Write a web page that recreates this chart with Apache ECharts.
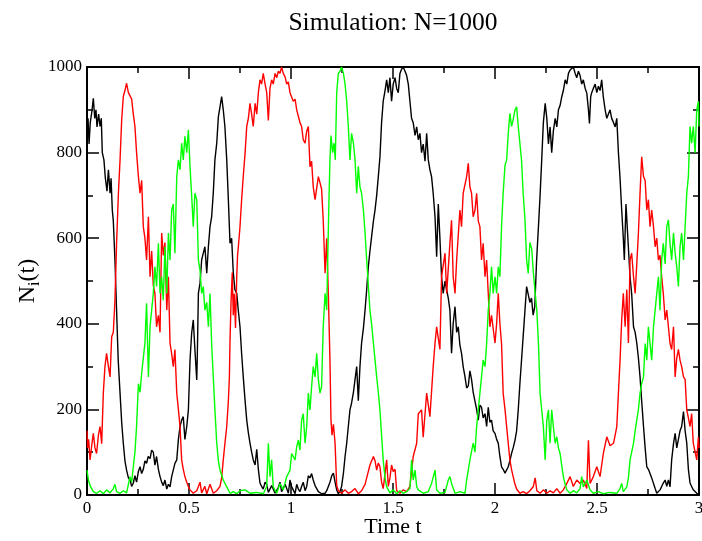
<!DOCTYPE html>
<html>
<head>
<meta charset="utf-8">
<script src="https://cdn.jsdelivr.net/npm/echarts@6/dist/echarts.min.js"></script>
<style>html,body{margin:0;padding:0;background:#fff}#c{width:702px;height:541px}</style>
</head>
<body>
<div id="c"></div>
<script>
const titleText = 'Simulation: N=1000';
const xName = 'Time t';
const xTicks = [0, 0.5, 1, 1.5, 2, 2.5, 3];
const yTicks = [0, 200, 400, 600, 800, 1000];

const blackSeries = [[0,840],[0.005,880],[0.010,820],[0.016,870],[0.025,900],[0.031,927],[0.038,880],[0.044,900],[0.049,860],[0.057,890],[0.064,861],[0.070,880],[0.075,800],[0.083,783],[0.090,740],[0.098,710],[0.105,760],[0.113,705],[0.118,740],[0.124,666],[0.129,640],[0.137,549],[0.145,432],[0.153,315],[0.162,238],[0.170,170],[0.178,121],[0.186,80],[0.194,58],[0.203,40],[0.211,35],[0.219,20],[0.227,28],[0.235,45],[0.243,30],[0.252,55],[0.260,66],[0.268,50],[0.276,60],[0.284,80],[0.292,74],[0.300,90],[0.309,85],[0.317,105],[0.325,100],[0.333,70],[0.341,90],[0.350,60],[0.358,43],[0.366,30],[0.374,22],[0.382,35],[0.391,14],[0.399,25],[0.407,19],[0.415,43],[0.423,40],[0.431,74],[0.440,82],[0.448,130],[0.456,160],[0.464,175],[0.472,183],[0.480,130],[0.489,160],[0.497,199],[0.505,315],[0.513,378],[0.521,409],[0.529,339],[0.538,269],[0.541,331],[0.546,471],[0.554,495],[0.562,549],[0.570,565],[0.578,580],[0.587,518],[0.595,580],[0.603,627],[0.611,650],[0.619,705],[0.627,783],[0.636,822],[0.644,884],[0.652,907],[0.660,931],[0.668,900],[0.676,861],[0.685,783],[0.693,689],[0.701,588],[0.709,600],[0.717,520],[0.725,480],[0.734,471],[0.742,430],[0.750,393],[0.758,330],[0.766,276],[0.775,220],[0.783,175],[0.791,145],[0.799,121],[0.807,100],[0.815,82],[0.824,70],[0.832,107],[0.840,60],[0.848,28],[0.856,20],[0.864,14],[0.873,30],[0.881,25],[0.889,6],[0.897,8],[0.905,22],[0.913,20],[0.922,4],[0.930,5],[0.938,18],[0.946,30],[0.954,8],[0.962,10],[0.971,25],[0.979,15],[0.987,4],[0.995,35],[1.003,20],[1.011,12],[1.020,3],[1.028,25],[1.036,14],[1.044,8],[1.052,20],[1.060,30],[1.069,10],[1.077,20],[1.085,45],[1.093,40],[1.101,50],[1.109,35],[1.118,22],[1.126,20],[1.134,8],[1.142,5],[1.150,3],[1.158,2],[1.167,4],[1.175,10],[1.183,20],[1.191,30],[1.200,45],[1.208,51],[1.216,30],[1.224,12],[1.232,3],[1.240,8],[1.248,20],[1.257,51],[1.265,90],[1.273,121],[1.281,160],[1.289,199],[1.297,215],[1.306,240],[1.314,270],[1.322,300],[1.330,220],[1.338,300],[1.346,355],[1.355,390],[1.363,432],[1.371,480],[1.379,533],[1.387,570],[1.395,603],[1.404,640],[1.412,666],[1.420,700],[1.428,744],[1.436,790],[1.444,870],[1.452,920],[1.461,945],[1.469,970],[1.477,940],[1.485,975],[1.493,920],[1.501,960],[1.510,975],[1.518,950],[1.526,940],[1.534,985],[1.542,995],[1.550,1000],[1.559,990],[1.567,980],[1.575,960],[1.583,920],[1.591,880],[1.599,870],[1.608,840],[1.616,860],[1.624,830],[1.632,845],[1.640,800],[1.648,820],[1.657,780],[1.665,845],[1.673,783],[1.681,760],[1.689,744],[1.697,705],[1.706,650],[1.714,557],[1.722,680],[1.730,600],[1.738,510],[1.746,471],[1.755,500],[1.763,480],[1.771,460],[1.779,432],[1.787,331],[1.795,400],[1.804,440],[1.812,380],[1.820,393],[1.828,350],[1.836,331],[1.844,300],[1.853,276],[1.861,250],[1.869,255],[1.877,290],[1.885,270],[1.893,240],[1.902,238],[1.910,200],[1.918,175],[1.926,210],[1.934,205],[1.942,180],[1.951,190],[1.959,160],[1.967,205],[1.975,170],[1.983,175],[1.991,150],[2.000,144],[2.008,130],[2.016,121],[2.024,90],[2.032,66],[2.040,60],[2.049,51],[2.057,55],[2.065,66],[2.073,80],[2.081,97],[2.089,110],[2.098,128],[2.106,150],[2.114,199],[2.122,260],[2.130,315],[2.138,370],[2.147,432],[2.155,487],[2.163,487],[2.171,450],[2.179,460],[2.187,420],[2.195,440],[2.204,549],[2.213,627],[2.221,700],[2.229,783],[2.237,870],[2.246,915],[2.254,880],[2.262,820],[2.270,860],[2.278,800],[2.286,850],[2.295,880],[2.303,860],[2.311,900],[2.319,910],[2.327,930],[2.335,945],[2.344,970],[2.352,960],[2.360,985],[2.368,993],[2.376,990],[2.384,1000],[2.393,985],[2.401,975],[2.409,990],[2.417,980],[2.425,960],[2.433,970],[2.442,950],[2.450,939],[2.458,900],[2.463,868],[2.469,930],[2.474,940],[2.482,950],[2.491,960],[2.499,940],[2.507,955],[2.515,945],[2.523,970],[2.531,930],[2.540,900],[2.548,880],[2.556,878],[2.564,900],[2.572,880],[2.581,870],[2.589,860],[2.597,880],[2.605,800],[2.613,740],[2.621,666],[2.629,600],[2.634,549],[2.642,680],[2.649,620],[2.656,560],[2.662,510],[2.670,470],[2.679,393],[2.687,380],[2.695,355],[2.703,320],[2.711,276],[2.719,220],[2.728,160],[2.736,110],[2.744,66],[2.752,60],[2.760,50],[2.768,40],[2.777,43],[2.785,15],[2.793,4],[2.801,8],[2.809,12],[2.817,20],[2.825,28],[2.834,35],[2.842,20],[2.850,35],[2.858,19],[2.866,82],[2.875,120],[2.883,144],[2.891,110],[2.899,130],[2.907,150],[2.915,160],[2.924,195],[2.932,150],[2.940,121],[2.948,60],[2.956,28],[2.964,20],[2.972,12],[2.981,8],[2.989,4],[3.000,2]];

const redSeries = [[0,150],[0.003,110],[0.008,130],[0.015,82],[0.023,115],[0.031,144],[0.039,110],[0.047,97],[0.056,140],[0.064,160],[0.072,120],[0.080,238],[0.088,300],[0.096,331],[0.105,300],[0.113,276],[0.121,370],[0.129,380],[0.137,455],[0.145,588],[0.154,705],[0.162,783],[0.170,876],[0.178,931],[0.186,945],[0.194,962],[0.203,940],[0.211,938],[0.219,925],[0.227,890],[0.235,861],[0.243,800],[0.252,744],[0.260,705],[0.268,735],[0.276,627],[0.284,600],[0.292,549],[0.301,650],[0.309,510],[0.317,570],[0.325,490],[0.333,471],[0.341,393],[0.350,420],[0.358,380],[0.366,612],[0.374,560],[0.382,590],[0.391,432],[0.399,510],[0.407,355],[0.415,330],[0.423,300],[0.431,340],[0.440,238],[0.448,200],[0.456,160],[0.464,82],[0.472,60],[0.480,43],[0.489,30],[0.497,20],[0.505,12],[0.521,4],[0.538,10],[0.554,30],[0.562,5],[0.578,20],[0.587,3],[0.603,25],[0.619,4],[0.636,10],[0.652,20],[0.660,40],[0.668,82],[0.676,120],[0.685,160],[0.693,220],[0.698,276],[0.701,360],[0.706,450],[0.712,520],[0.717,420],[0.722,470],[0.728,390],[0.734,510],[0.738,560],[0.742,580],[0.750,627],[0.758,690],[0.766,744],[0.775,800],[0.783,861],[0.791,880],[0.799,915],[0.807,890],[0.815,861],[0.824,915],[0.832,890],[0.840,940],[0.848,970],[0.856,960],[0.864,985],[0.873,960],[0.881,940],[0.889,875],[0.897,950],[0.905,970],[0.913,960],[0.922,985],[0.930,975],[0.938,990],[0.946,985],[0.954,1000],[0.962,985],[0.971,977],[0.979,960],[0.987,965],[0.995,940],[1.003,939],[1.011,920],[1.020,925],[1.028,900],[1.036,885],[1.044,870],[1.052,861],[1.060,830],[1.069,822],[1.077,850],[1.085,861],[1.093,767],[1.101,780],[1.109,720],[1.118,690],[1.126,689],[1.134,744],[1.142,730],[1.150,715],[1.158,642],[1.167,518],[1.175,600],[1.183,470],[1.191,315],[1.196,175],[1.201,140],[1.208,165],[1.216,121],[1.224,22],[1.232,10],[1.248,4],[1.265,12],[1.281,4],[1.297,8],[1.314,15],[1.330,3],[1.346,10],[1.363,25],[1.371,40],[1.387,70],[1.404,90],[1.412,80],[1.420,58],[1.428,75],[1.436,66],[1.444,30],[1.452,15],[1.461,50],[1.469,82],[1.477,20],[1.485,40],[1.493,70],[1.501,55],[1.510,60],[1.518,10],[1.534,4],[1.550,12],[1.567,8],[1.583,20],[1.599,90],[1.616,121],[1.624,190],[1.640,199],[1.648,135],[1.665,238],[1.681,183],[1.697,300],[1.706,355],[1.714,393],[1.730,340],[1.738,510],[1.755,565],[1.763,471],[1.779,588],[1.787,642],[1.795,510],[1.804,471],[1.812,549],[1.828,666],[1.836,627],[1.844,705],[1.861,744],[1.869,775],[1.877,720],[1.885,705],[1.893,650],[1.902,666],[1.910,705],[1.918,640],[1.926,627],[1.934,549],[1.942,588],[1.951,510],[1.959,549],[1.967,470],[1.975,393],[1.983,420],[1.991,420],[2.000,355],[2.008,400],[2.016,471],[2.024,400],[2.032,354],[2.040,238],[2.049,200],[2.057,160],[2.065,120],[2.073,82],[2.081,60],[2.089,43],[2.098,25],[2.106,14],[2.122,4],[2.138,8],[2.155,3],[2.171,10],[2.188,20],[2.197,40],[2.205,10],[2.221,4],[2.237,12],[2.254,4],[2.270,10],[2.286,5],[2.303,15],[2.319,4],[2.335,12],[2.352,27],[2.368,43],[2.384,20],[2.401,35],[2.417,27],[2.433,35],[2.450,15],[2.458,128],[2.466,27],[2.482,43],[2.499,66],[2.515,43],[2.531,97],[2.548,136],[2.564,115],[2.581,121],[2.589,140],[2.597,160],[2.605,238],[2.613,315],[2.621,409],[2.629,471],[2.638,393],[2.646,480],[2.654,355],[2.662,549],[2.670,565],[2.679,510],[2.687,471],[2.695,540],[2.703,612],[2.711,705],[2.719,790],[2.728,744],[2.736,735],[2.744,666],[2.752,690],[2.760,627],[2.768,666],[2.777,627],[2.785,580],[2.793,600],[2.801,549],[2.809,560],[2.817,510],[2.825,471],[2.834,409],[2.842,432],[2.850,393],[2.858,354],[2.866,340],[2.875,393],[2.883,276],[2.891,320],[2.899,340],[2.907,315],[2.915,300],[2.924,276],[2.932,270],[2.940,199],[2.948,180],[2.956,160],[2.964,190],[2.972,121],[2.981,100],[2.989,82],[2.997,136],[3.000,110]];

const greenSeries = [[0,58],[0.007,35],[0.015,22],[0.031,8],[0.047,4],[0.064,10],[0.080,3],[0.096,12],[0.113,5],[0.129,15],[0.137,25],[0.145,8],[0.162,4],[0.178,10],[0.194,5],[0.211,43],[0.219,30],[0.227,66],[0.235,100],[0.243,160],[0.252,260],[0.260,240],[0.268,284],[0.276,320],[0.284,355],[0.292,448],[0.301,276],[0.309,393],[0.317,432],[0.325,471],[0.333,533],[0.341,487],[0.350,588],[0.358,471],[0.366,510],[0.374,455],[0.382,580],[0.391,471],[0.399,612],[0.407,549],[0.415,666],[0.423,680],[0.431,565],[0.440,744],[0.448,783],[0.456,760],[0.464,822],[0.472,783],[0.480,838],[0.489,800],[0.497,853],[0.505,767],[0.513,700],[0.521,627],[0.529,705],[0.538,690],[0.546,549],[0.554,525],[0.562,471],[0.570,487],[0.578,432],[0.587,450],[0.595,393],[0.603,471],[0.611,354],[0.619,276],[0.627,199],[0.636,121],[0.644,80],[0.652,58],[0.668,35],[0.685,19],[0.701,4],[0.717,8],[0.734,3],[0.750,10],[0.775,12],[0.799,4],[0.832,6],[0.864,3],[0.881,20],[0.889,121],[0.897,43],[0.905,82],[0.913,19],[0.930,4],[0.946,27],[0.962,12],[0.979,43],[0.995,58],[1.003,97],[1.020,82],[1.028,113],[1.036,128],[1.044,105],[1.052,175],[1.060,190],[1.069,121],[1.077,160],[1.085,238],[1.093,199],[1.101,253],[1.109,300],[1.118,276],[1.126,331],[1.134,270],[1.142,238],[1.150,253],[1.158,393],[1.167,471],[1.175,432],[1.180,549],[1.185,666],[1.191,783],[1.196,840],[1.204,800],[1.211,822],[1.217,783],[1.224,939],[1.232,985],[1.240,990],[1.248,1000],[1.257,985],[1.265,960],[1.273,920],[1.281,861],[1.289,783],[1.297,845],[1.306,822],[1.314,783],[1.322,705],[1.330,768],[1.338,720],[1.346,705],[1.355,666],[1.363,612],[1.371,549],[1.379,490],[1.387,432],[1.395,400],[1.404,355],[1.412,315],[1.420,276],[1.428,240],[1.436,199],[1.444,140],[1.452,82],[1.461,40],[1.469,19],[1.485,5],[1.501,12],[1.518,3],[1.534,10],[1.550,4],[1.567,8],[1.583,15],[1.591,82],[1.599,35],[1.608,58],[1.616,20],[1.624,12],[1.648,4],[1.673,8],[1.689,27],[1.706,58],[1.714,12],[1.730,4],[1.755,6],[1.771,35],[1.779,43],[1.787,27],[1.804,4],[1.828,8],[1.853,4],[1.861,35],[1.877,82],[1.893,121],[1.902,100],[1.910,160],[1.918,199],[1.926,238],[1.934,276],[1.942,315],[1.951,300],[1.959,354],[1.967,432],[1.975,471],[1.983,533],[1.991,471],[2.000,510],[2.008,471],[2.016,533],[2.024,510],[2.032,627],[2.040,705],[2.049,770],[2.057,783],[2.065,845],[2.073,892],[2.081,861],[2.089,877],[2.098,900],[2.106,907],[2.114,861],[2.122,822],[2.130,783],[2.138,705],[2.147,643],[2.155,549],[2.163,518],[2.171,590],[2.180,575],[2.188,520],[2.197,471],[2.205,432],[2.213,354],[2.221,238],[2.229,199],[2.237,160],[2.246,82],[2.254,175],[2.262,199],[2.270,121],[2.278,199],[2.286,160],[2.295,121],[2.303,136],[2.311,110],[2.319,97],[2.327,70],[2.335,43],[2.344,25],[2.352,12],[2.368,4],[2.384,10],[2.401,5],[2.417,15],[2.425,43],[2.433,19],[2.450,35],[2.466,12],[2.482,4],[2.507,8],[2.531,3],[2.564,6],[2.597,4],[2.613,15],[2.621,27],[2.629,8],[2.646,19],[2.654,40],[2.662,82],[2.670,100],[2.679,121],[2.687,150],[2.695,175],[2.703,200],[2.711,238],[2.719,260],[2.728,276],[2.736,354],[2.744,315],[2.752,393],[2.760,354],[2.768,315],[2.777,393],[2.785,432],[2.793,471],[2.801,510],[2.809,432],[2.817,549],[2.825,588],[2.834,540],[2.842,627],[2.850,643],[2.858,588],[2.866,549],[2.875,612],[2.883,565],[2.891,533],[2.899,487],[2.907,580],[2.915,612],[2.924,549],[2.932,627],[2.940,705],[2.948,744],[2.956,861],[2.964,822],[2.972,861],[2.981,800],[2.989,900],[2.997,920],[3.000,861]];

const FONT = '"Liberation Serif", "Times New Roman", serif';
const chart = echarts.init(document.getElementById('c'), null, {renderer: 'canvas'});

function mkX(pos, labels) {
  return {
    type: 'value', position: pos, min: xTicks[0], max: xTicks[xTicks.length - 1],
    interval: xTicks[1] - xTicks[0],
    axisLine: {show: true, onZero: false, lineStyle: {color: '#000', width: 2}},
    axisTick: {show: true, inside: true, length: 12, lineStyle: {color: '#000', width: 1.5}},
    minorTick: {show: true, splitNumber: 2, length: 6, lineStyle: {color: '#000', width: 1.5}},
    splitLine: {show: false}, minorSplitLine: {show: false},
    axisLabel: {show: labels, color: '#000', fontFamily: FONT, fontSize: 17, margin: 5,
      showMaxLabel: true, showMinLabel: true, hideOverlap: false, formatter: v => String(v)},
    name: labels ? xName : '', nameLocation: 'middle', nameGap: 21, nameMoveOverlap: false,
    nameTextStyle: {color: '#000', fontFamily: FONT, fontSize: 22}
  };
}
function mkY(pos, labels) {
  return {
    type: 'value', position: pos, min: yTicks[0], max: yTicks[yTicks.length - 1],
    interval: yTicks[1] - yTicks[0],
    axisLine: {show: true, onZero: false, lineStyle: {color: '#000', width: 2}},
    axisTick: {show: true, inside: true, length: 12, lineStyle: {color: '#000', width: 1.5}},
    minorTick: {show: true, splitNumber: 2, length: 6, lineStyle: {color: '#000', width: 1.5}},
    splitLine: {show: false}, minorSplitLine: {show: false},
    axisLabel: {show: labels, color: '#000', fontFamily: FONT, fontSize: 17, margin: 5,
      formatter: v => String(v)},
    name: labels ? '{n|N}{s|i}{n|(t)}' : '', nameLocation: 'middle', nameGap: 44, nameRotate: 90,
    nameMoveOverlap: false,
    nameTextStyle: {
      color: '#000', fontFamily: FONT, fontSize: 24,
      rich: {
        n: {fontFamily: FONT, fontSize: 24, color: '#000', lineHeight: 30},
        s: {fontFamily: FONT, fontSize: 16, color: '#000', verticalAlign: 'bottom', lineHeight: 16}
      }
    }
  };
}

const lineSeries = (name, data, color) => ({
  name, type: 'line', data, xAxisIndex: 0, yAxisIndex: 0,
  showSymbol: false, symbol: 'none', smooth: false, clip: true,
  lineStyle: {color, width: 1.4}, itemStyle: {color}, emphasis: {disabled: true}
});

chart.setOption({
  animation: false,
  backgroundColor: '#fff',
  title: {
    text: titleText, left: 388, top: 5, textAlign: 'center',
    textStyle: {color: '#000', fontFamily: FONT, fontSize: 25.5, fontWeight: 'normal'}
  },
  grid: {left: 87, right: 3, top: 67, bottom: 46, containLabel: false, outerBoundsMode: 'none'},
  xAxis: [mkX('bottom', true), mkX('top', false)],
  yAxis: [mkY('left', true), mkY('right', false)],
  series: [
    lineSeries('black', blackSeries, '#000000'),
    lineSeries('red', redSeries, '#ff0000'),
    lineSeries('green', greenSeries, '#00ff00')
  ]
});
</script>
</body>
</html>
